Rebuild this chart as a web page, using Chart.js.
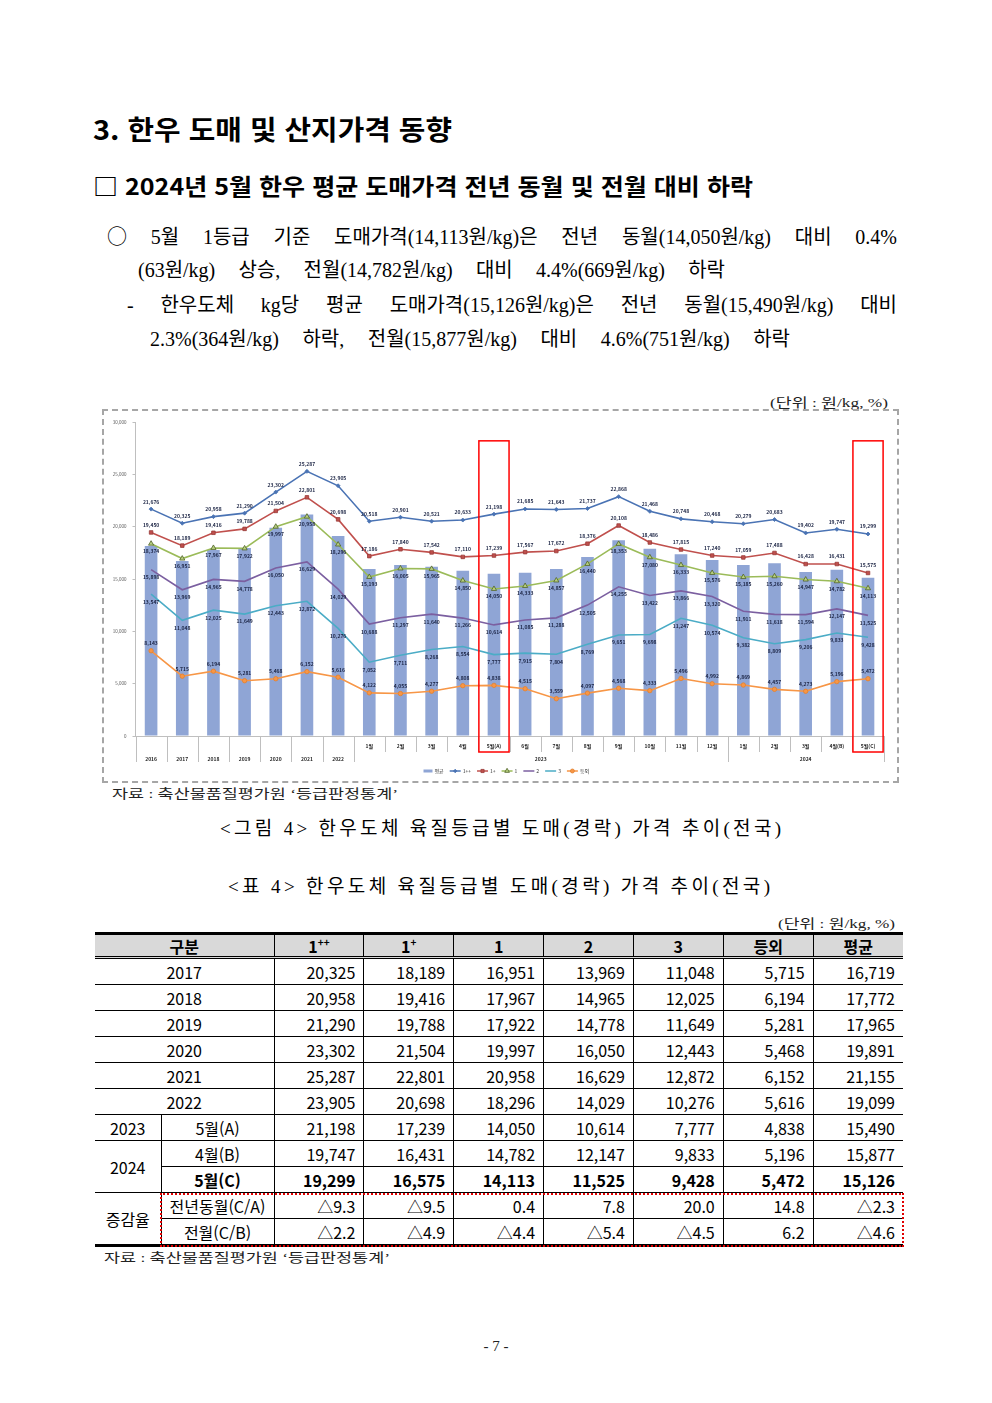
<!DOCTYPE html>
<html lang="ko">
<head>
<meta charset="utf-8">
<script src="https://cdn.jsdelivr.net/npm/chart.js@4.4.1/dist/chart.umd.min.js"></script>
<style>
html,body{margin:0;padding:0;background:#fff;}
body{width:992px;height:1403px;position:relative;overflow:hidden;color:#000;}
.t{position:absolute;white-space:pre;}
.t>span{display:inline-block;white-space:pre;transform-origin:0 50%;}
.hd{font-family:"Noto Sans CJK KR",sans-serif;font-weight:700;}
.bd{font-family:"Liberation Serif","Noto Sans CJK KR",serif;font-weight:400;}
.sm{font-family:"Liberation Serif","Noto Sans CJK KR",serif;color:#222;}
.cj{font-family:"Noto Sans CJK KR",sans-serif;}
#box{position:absolute;left:102px;top:409px;width:797px;height:374px;box-sizing:border-box;border:2px dashed #A6A6A6;}
#cw{position:absolute;left:103px;top:410px;width:794px;height:371px;}
#tbl{position:absolute;left:95px;top:932px;width:808px;border-collapse:collapse;table-layout:fixed;
  font-family:"Noto Sans CJK KR",sans-serif;font-size:16px;}
#tbl th,#tbl td{border:1px solid #000;padding:0 8px 0 0;text-align:right;line-height:1;height:25px;white-space:nowrap;overflow:visible;}
#tbl th{background:#D9D9D9;text-align:center;padding:0;height:21px;border-top:3px solid #000;border-bottom:3px double #000;font-weight:700;}
#tbl td.c{text-align:center;padding:0;}
#tbl .nl{border-left:none;}
#tbl tr>*:last-child{border-right:none;}
#tbl tr.b td{font-weight:700;}
#tbl tr.last td{border-bottom:3px solid #000;}
#tbl sup{font-size:10px;vertical-align:7px;line-height:0;}
#red{position:absolute;left:160px;top:1193px;width:744px;height:54px;box-sizing:border-box;border:2px dotted #E00000;}
</style>
</head>
<body>

<div class="t hd fit" data-m="scale" data-w="359" style="left:93px;top:112px;font-size:27px;line-height:34px;"><span>3. 한우 도매 및 산지가격 동향</span></div>
<div class="t hd fit" data-m="scale" data-w="660" style="left:93px;top:170px;font-size:23px;line-height:30px;"><span>□ 2024년 5월 한우 평균 도매가격 전년 동월 및 전월 대비 하락</span></div>

<div class="t bd fit" data-w="790" style="left:107px;top:222px;font-size:20px;line-height:28px;"><span><span class="cj" style="font-size:20px;">○</span> 5월 1등급 기준 도매가격(14,113원/kg)은 전년 동월(14,050원/kg) 대비 0.4%</span></div>
<div class="t bd fit" data-w="587" style="left:138px;top:256px;font-size:20px;line-height:28px;"><span>(63원/kg) 상승, 전월(14,782원/kg) 대비 4.4%(669원/kg) 하락</span></div>
<div class="t bd fit" data-w="770" style="left:127px;top:291px;font-size:20px;line-height:28px;"><span>- 한우도체 kg당 평균 도매가격(15,126원/kg)은 전년 동월(15,490원/kg) 대비</span></div>
<div class="t bd fit" data-w="640" style="left:150px;top:325px;font-size:20px;line-height:28px;"><span>2.3%(364원/kg) 하락, 전월(15,877원/kg) 대비 4.6%(751원/kg) 하락</span></div>

<div class="t sm fit" data-m="scale" data-w="118" style="left:770px;top:394px;font-size:13px;line-height:18px;"><span>(단위 : 원/kg, %)</span></div>

<div id="box"></div>
<div id="cw"><canvas id="c"></canvas></div>

<div class="t sm fit" data-m="scale" data-w="286" style="left:112px;top:785px;font-size:13px;line-height:18px;"><span>자료 : 축산물품질평가원 ‘등급판정통계’</span></div>

<div class="t bd fit" data-m="ls" data-w="561" style="left:220px;top:815px;font-size:19px;line-height:28px;"><span>&lt;그림 4&gt; 한우도체 육질등급별 도매(경락) 가격 추이(전국)</span></div>
<div class="t bd fit" data-m="ls" data-w="542" style="left:228px;top:873px;font-size:19px;line-height:28px;"><span>&lt;표 4&gt; 한우도체 육질등급별 도매(경락) 가격 추이(전국)</span></div>

<div class="t sm fit" data-m="scale" data-w="117" style="left:778px;top:915px;font-size:13px;line-height:18px;"><span>(단위 : 원/kg, %)</span></div>

<table id="tbl">
<colgroup><col style="width:66px"><col style="width:113px"><col><col><col><col><col><col><col></colgroup>
<thead><tr><th colspan="2" class="nl">구분</th><th>1<sup>++</sup></th><th>1<sup>+</sup></th><th>1</th><th>2</th><th>3</th><th>등외</th><th>평균</th></tr></thead>
<tbody>
<tr><td colspan="2" class="c nl">2017</td><td>20,325</td><td>18,189</td><td>16,951</td><td>13,969</td><td>11,048</td><td>5,715</td><td>16,719</td></tr>
<tr><td colspan="2" class="c nl">2018</td><td>20,958</td><td>19,416</td><td>17,967</td><td>14,965</td><td>12,025</td><td>6,194</td><td>17,772</td></tr>
<tr><td colspan="2" class="c nl">2019</td><td>21,290</td><td>19,788</td><td>17,922</td><td>14,778</td><td>11,649</td><td>5,281</td><td>17,965</td></tr>
<tr><td colspan="2" class="c nl">2020</td><td>23,302</td><td>21,504</td><td>19,997</td><td>16,050</td><td>12,443</td><td>5,468</td><td>19,891</td></tr>
<tr><td colspan="2" class="c nl">2021</td><td>25,287</td><td>22,801</td><td>20,958</td><td>16,629</td><td>12,872</td><td>6,152</td><td>21,155</td></tr>
<tr><td colspan="2" class="c nl">2022</td><td>23,905</td><td>20,698</td><td>18,296</td><td>14,029</td><td>10,276</td><td>5,616</td><td>19,099</td></tr>
<tr><td class="c nl">2023</td><td class="c">5월(A)</td><td>21,198</td><td>17,239</td><td>14,050</td><td>10,614</td><td>7,777</td><td>4,838</td><td>15,490</td></tr>
<tr><td rowspan="2" class="c nl" style="font-weight:400">2024</td><td class="c">4월(B)</td><td>19,747</td><td>16,431</td><td>14,782</td><td>12,147</td><td>9,833</td><td>5,196</td><td>15,877</td></tr>
<tr class="b"><td class="c">5월(C)</td><td>19,299</td><td>16,575</td><td>14,113</td><td>11,525</td><td>9,428</td><td>5,472</td><td>15,126</td></tr>
<tr><td rowspan="2" class="c nl" style="border-bottom:3px solid #000;">증감율</td><td class="c">전년동월(C/A)</td><td>△9.3</td><td>△9.5</td><td>0.4</td><td>7.8</td><td>20.0</td><td>14.8</td><td>△2.3</td></tr>
<tr class="last"><td class="c">전월(C/B)</td><td>△2.2</td><td>△4.9</td><td>△4.4</td><td>△5.4</td><td>△4.5</td><td>6.2</td><td>△4.6</td></tr>
</tbody>
</table>
<div id="red"></div>

<div class="t sm fit" data-m="scale" data-w="286" style="left:104px;top:1249px;font-size:13px;line-height:18px;"><span>자료 : 축산물품질평가원 ‘등급판정통계’</span></div>

<div class="t sm" style="left:446px;width:100px;text-align:center;top:1336px;font-size:15px;line-height:20px;"><span>- 7 -</span></div>

<script>
// ---------- chart data ----------
const categories = ['2016','2017','2018','2019','2020','2021','2022',
  '1월','2월','3월','4월','5월(A)','6월','7월','8월','9월','10월','11월','12월',
  '1월','2월','3월','4월(B)','5월(C)'];
const groupLabels = ['2023','2024'];
const groupFirst = [7, 19];
const groupLast = [18, 23];
const highlighted = [11, 23];

const avgPrice  = [18150,16719,17772,17965,19891,21155,19099,15950,16330,16180,15800,15490,15600,15950,17100,18700,17900,17360,16820,16340,16500,15670,15877,15126];
const grade1pp  = [21676,20325,20958,21290,23302,25287,23905,20518,20901,20521,20633,21198,21685,21643,21737,22868,21468,20748,20468,20279,20683,19402,19747,19299];
const grade1p   = [19450,18189,19416,19788,21504,22801,20698,17186,17840,17542,17110,17239,17567,17672,18376,20108,18486,17815,17240,17059,17488,16428,16431,15575];
const grade1    = [18374,16951,17967,17922,19997,20958,18296,15193,16005,15965,14850,14050,14333,14857,16440,18353,17080,16333,15576,15185,15260,14947,14782,14113];
const grade2    = [15898,13969,14965,14778,16050,16629,14029,10688,11297,11640,11266,10614,11085,11288,12505,14255,13422,13866,13320,11911,11618,11594,12147,11525];
const grade3    = [13547,11048,12025,11649,12443,12872,10276,7052,7711,8268,8554,7777,7915,7804,8769,9651,9698,11247,10574,9382,8809,9206,9833,9428];
const gradeOut  = [8143,5715,6194,5281,5468,6152,5616,4122,4055,4277,4808,4838,4515,3559,4097,4568,4333,5496,4992,4869,4457,4273,5196,5472];

const yMax = 30000, yStep = 5000;
const FONT = '"Noto Sans CJK KR", sans-serif';

function fitAll(){
  document.querySelectorAll('.fit').forEach(el=>{
    const w = parseFloat(el.dataset.w);
    const mode = el.dataset.m || 'ws';
    const s = el.firstElementChild;
    s.style.wordSpacing=''; s.style.letterSpacing=''; s.style.transform='';
    const nat = s.getBoundingClientRect().width;
    const txt = s.textContent;
    const n = (txt.match(/ /g)||[]).length;
    if (mode==='ws' && nat < w && n>0) s.style.wordSpacing = ((w-nat)/n)+'px';
    else if (mode==='ls' && nat < w) {
      const chars = [...txt].length;
      s.style.letterSpacing = ((w-nat)/(chars-1))+'px';
      s.style.marginRight = (-(w-nat)/(chars-1))+'px';
    }
    else s.style.transform = 'scaleX('+(w/nat)+')';
  });
}

const labelPlugin = {
  id:'valueLabels',
  afterDatasetsDraw(chart){
    const ctx = chart.ctx;
    ctx.save();
    ctx.font = 'bold 5px ' + FONT;
    ctx.fillStyle = '#1B2444';
    ctx.textAlign = 'center';
    ctx.textBaseline = 'middle';
    chart.data.datasets.forEach((ds,di)=>{
      if(!ds.labelPos) return;
      const meta = chart.getDatasetMeta(di);
      meta.data.forEach((pt,i)=>{
        const dy = ds.labelPos==='above' ? -7.5 : 7.5;
        ctx.fillText(ds.data[i].toLocaleString('en-US'), pt.x, pt.y+dy);
      });
    });
    ctx.restore();
  }
};

const decorPlugin = {
  id:'decor',
  afterDraw(chart){
    const {ctx, chartArea:a, scales:{x,y}} = chart;
    const n = categories.length;
    const half = (x.getPixelForValue(1)-x.getPixelForValue(0))/2;
    const edge = b => b<n ? x.getPixelForValue(b)-half : x.getPixelForValue(n-1)+half;
    ctx.save();
    ctx.strokeStyle='#BFBFBF'; ctx.lineWidth=1;
    for(let b=0;b<=n;b++){
      const inside = groupFirst.some((f,g)=> b>f && b<=groupLast[g]);
      const len = inside ? 16 : 26;
      const px = Math.round(edge(b))+0.5;
      ctx.beginPath(); ctx.moveTo(px,a.bottom); ctx.lineTo(px,a.bottom+len); ctx.stroke();
    }
    ctx.font='bold 5px '+FONT; ctx.fillStyle='#262626';
    ctx.textAlign='center'; ctx.textBaseline='middle';
    categories.forEach((c,i)=>{
      const inG = groupFirst.some((f,g)=> i>=f && i<=groupLast[g]);
      ctx.fillText(c, x.getPixelForValue(i), a.bottom + (inG ? 10 : 23));
    });
    groupLabels.forEach((g,k)=>{
      const cx = (x.getPixelForValue(groupFirst[k]) + x.getPixelForValue(groupLast[k]))/2;
      ctx.fillText(g, cx, a.bottom+23);
    });
    ctx.strokeStyle='#FF0000'; ctx.lineWidth=1.5;
    highlighted.forEach(i=>{
      const px = x.getPixelForValue(i);
      const top = y.getPixelForValue(28200);
      ctx.strokeRect(px-half+0.5, top, 2*half-1, a.bottom+16-top);
    });
    let lx = a.left + 288;
    const ly = a.bottom + 35;
    ctx.font='5px '+FONT; ctx.textAlign='left'; ctx.textBaseline='middle';
    chart.data.datasets.forEach(ds=>{
      if(ds.type==='bar'){
        ctx.fillStyle=ds.backgroundColor; ctx.fillRect(lx, ly-1.5, 9, 3); lx+=11;
      } else {
        ctx.strokeStyle=ds.borderColor; ctx.lineWidth=1.5;
        ctx.beginPath(); ctx.moveTo(lx,ly); ctx.lineTo(lx+11,ly); ctx.stroke();
        if(ds.pointRadius>0){
          ctx.fillStyle=ds.pointBackgroundColor; ctx.strokeStyle=ds.pointBorderColor; ctx.lineWidth=0.8;
          Chart.helpers.drawPoint(ctx,{pointStyle:ds.pointStyle,rotation:0,radius:ds.pointRadius*0.9,borderWidth:0.8},lx+5.5,ly);
        }
        lx+=13;
      }
      ctx.fillStyle='#333';
      ctx.fillText(ds.label, lx, ly);
      lx += ctx.measureText(ds.label).width + 6;
    });
    ctx.restore();
  }
};

function lineDs(label, data, color, style, radius, fill, border, pos){
  return {type:'line', label, data, borderColor:color, borderWidth:1.6, tension:0,
    pointStyle:style||'circle', pointRadius:radius, pointHoverRadius:radius,
    pointBackgroundColor:fill||color, pointBorderColor:border||color, pointBorderWidth:0.8,
    fill:false, order:0, labelPos:pos};
}

function build(){
  fitAll();
  new Chart(document.getElementById('c'), {
    data:{
      labels: categories,
      datasets:[
        {type:'bar', label:'평균', data:avgPrice, backgroundColor:'#8FA5D5', borderWidth:0,
         barPercentage:0.9, categoryPercentage:0.45, order:1},
        lineDs('1++', grade1pp, '#4A73B4', 'rectRot', 2, '#4A73B4', '#4A73B4', 'above'),
        lineDs('1+', grade1p, '#C0504D', 'rect', 2.5, '#C0504D', '#983B39', 'above'),
        lineDs('1', grade1, '#9BBB59', 'triangle', 3, '#B7CF7E', '#4F6228', 'below'),
        lineDs('2', grade2, '#7B5FA0', 'circle', 0, null, null, 'below'),
        lineDs('3', grade3, '#4BACC6', 'circle', 0, null, null, 'below'),
        lineDs('등외', gradeOut, '#F79646', 'circle', 2.2, '#F79646', '#E3802D', 'above')
      ]
    },
    options:{
      responsive:true, maintainAspectRatio:false, animation:false,
      layout:{padding:{left:0,right:13.4,top:12,bottom:45}},
      plugins:{legend:{display:false}, tooltip:{enabled:false}},
      scales:{
        x:{type:'category', offset:true,
           grid:{display:false}, border:{display:true,color:'#BFBFBF',width:1},
           ticks:{display:false}, afterFit:s=>{s.height=0;}},
        y:{min:0, max:yMax,
           ticks:{stepSize:yStep, font:{family:FONT,size:4.5}, color:'#595959', padding:6,
                  callback:v=>v.toLocaleString('en-US')},
           grid:{display:true, drawOnChartArea:false, drawTicks:true, tickLength:3, color:'#BFBFBF'},
           border:{display:true,color:'#BFBFBF',width:1},
           afterFit:s=>{s.width=32.5;}}
      }
    },
    plugins:[labelPlugin, decorPlugin]
  });
}
if(document.fonts && document.fonts.ready){ document.fonts.ready.then(build); } else { build(); }
</script>
</body>
</html>
